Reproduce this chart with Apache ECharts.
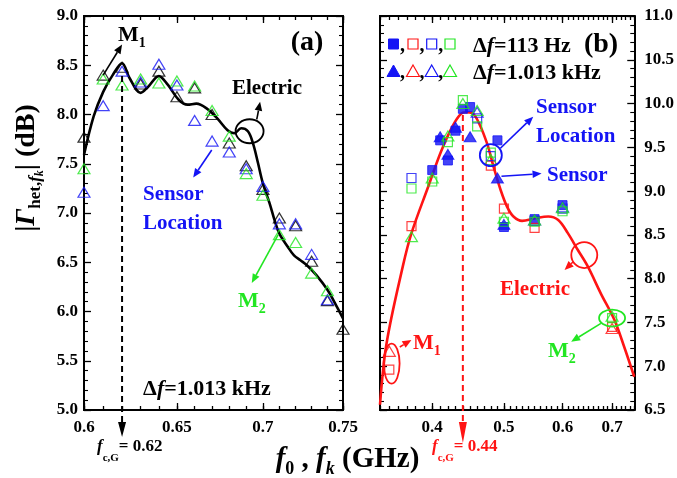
<!DOCTYPE html>
<html>
<head>
<meta charset="utf-8">
<script src="https://cdn.jsdelivr.net/npm/echarts@6/dist/echarts.min.js"></script>
<style>
  html, body { margin: 0; padding: 0; background: #ffffff; }
  #chart { width: 677px; height: 478px; }
</style>
</head>
<body>
<div id="chart"></div>
<script>
// ---------- panel (a): Δf = 1.013 kHz, f0 scan ----------
const freqA      = [0.60, 0.61, 0.62, 0.63, 0.64, 0.65, 0.66, 0.67, 0.68, 0.69, 0.70, 0.71, 0.72, 0.73, 0.74, 0.75];
const electricTriA = [7.77, 8.40, 8.48, 8.31, 8.44, 8.18, 8.27, 8.00, 7.71, 7.48, 7.24, 6.95, 6.87, 6.51, 6.11, 5.82];
const locationTriA = [7.21, 8.09, 8.44, 8.33, 8.51, 8.30, 7.94, 7.73, 7.62, 7.45, 7.27, 6.89, 6.89, 6.58, 6.12];
const m2TriA       = [7.45, 8.36, 8.30, 8.36, 8.32, 8.34, 8.29, 8.04, 7.78, 7.40, 7.18, 6.78, 6.70, 6.39, 6.21];
const curveFreqA = [0.600, 0.605, 0.610, 0.615, 0.620, 0.624, 0.630, 0.634, 0.640, 0.645, 0.651, 0.656, 0.661, 0.667,
                    0.673, 0.679, 0.683, 0.687, 0.691, 0.694, 0.697, 0.700, 0.704, 0.707, 0.710, 0.715, 0.719, 0.723,
                    0.727, 0.733, 0.740, 0.746, 0.750];
const curveValA  = [7.59, 7.98, 8.23, 8.40, 8.52, 8.37, 8.22, 8.28, 8.39, 8.30, 8.15, 8.10, 8.11, 8.06,
                    7.96, 7.84, 7.81, 7.86, 7.83, 7.71, 7.51, 7.30, 7.10, 6.93, 6.79, 6.66, 6.57, 6.52,
                    6.47, 6.37, 6.22, 6.05, 5.93];
const fcA = 0.62;

// ---------- panel (b): Δf = 113 Hz (squares) and Δf = 1.013 kHz (triangles) ----------
const sqSensorB   = [[0.40, 9.24], [0.41, 9.58], [0.42, 9.35], [0.43, 9.69], [0.44, 9.94], [0.45, 9.96], [0.49, 9.58], [0.50, 8.59], [0.55, 8.68], [0.60, 8.84]];
const sqElectricB = [[0.35, 6.96], [0.375, 8.60], [0.48, 9.29], [0.50, 8.80], [0.55, 8.58], [0.70, 7.45]];
const sqLocationB = [[0.375, 9.15], [0.46, 9.83], [0.48, 9.40], [0.55, 8.66], [0.60, 8.80]];
const sqM2B       = [[0.375, 9.03], [0.40, 9.11], [0.42, 9.56], [0.44, 10.04], [0.46, 9.74], [0.48, 9.44], [0.50, 8.65], [0.55, 8.65], [0.60, 8.77], [0.70, 7.55]];
const triSensorB   = [[0.41, 9.62], [0.42, 9.42], [0.43, 9.73], [0.45, 9.62], [0.49, 9.15], [0.50, 8.62]];
const triElectricB = [[0.35, 7.17], [0.70, 7.43]];
const triLocationB = [[0.46, 9.90], [0.55, 8.67], [0.60, 8.82]];
const triM2B       = [[0.375, 8.48], [0.40, 9.15], [0.42, 9.63], [0.44, 10.00], [0.46, 9.92], [0.48, 9.36], [0.50, 8.69], [0.55, 8.67], [0.60, 8.81], [0.70, 7.57]];
const curveFreqB = [0.340, 0.347, 0.365, 0.375, 0.395, 0.411, 0.426, 0.437, 0.444, 0.453, 0.463, 0.475, 0.484,
                    0.495, 0.505, 0.515, 0.529, 0.551, 0.574, 0.592, 0.610, 0.629, 0.649, 0.676, 0.705, 0.727, 0.750];
const curveValB  = [6.56, 7.26, 8.14, 8.52, 9.05, 9.45, 9.74, 9.88, 9.90, 9.89, 9.77, 9.53, 9.28,
                    9.01, 8.82, 8.71, 8.66, 8.69, 8.71, 8.67, 8.52, 8.33, 8.14, 7.83, 7.53, 7.22, 6.88];
const fcB = 0.44;

// ---------- axis ticks ----------
const xMajorA = [0.6, 0.65, 0.7, 0.75];
const xMinorA = [0.60, 0.61, 0.62, 0.63, 0.64, 0.65, 0.66, 0.67, 0.68, 0.69, 0.70, 0.71, 0.72, 0.73, 0.74, 0.75];
const xMajorB = [0.4, 0.5, 0.6, 0.7];
const xMinorB = [0.34, 0.35, 0.36, 0.37, 0.38, 0.39, 0.40, 0.41, 0.42, 0.43, 0.44, 0.45, 0.46, 0.47, 0.48, 0.49,
                 0.50, 0.51, 0.52, 0.53, 0.54, 0.55, 0.56, 0.57, 0.58, 0.59, 0.60, 0.61, 0.62, 0.63, 0.64, 0.65,
                 0.66, 0.67, 0.68, 0.69, 0.70, 0.71, 0.72, 0.73, 0.74, 0.75];
const yRangeA = [5.0, 9.0];
const yRangeB = [6.5, 11.0];

// ---------- styling ----------
const SERIF = '"Liberation Serif", "Times New Roman", serif';
const BLACK = '#000000', BLUE = '#1414f5', GREEN = '#22e622', RED = '#ff1414';

const chart = echarts.init(document.getElementById('chart'), null, { renderer: 'canvas' });

const GRID_A = { left: 84, top: 16, width: 259, height: 394 };
const GRID_B = { left: 380, top: 16, width: 257, height: 394 };

const tickLabel = { show: true, color: BLACK, fontFamily: SERIF, fontWeight: 'bold', fontSize: 17 };

function logAxis(grid, position, range, ticks, len, labels) {
  return {
    type: 'log', logBase: 10, gridIndex: grid, position: position,
    min: range[0], max: range[1],
    axisLine: { show: true, onZero: false, lineStyle: { color: BLACK, width: 2 } },
    axisTick: { show: true, inside: true, length: len, customValues: ticks, lineStyle: { color: BLACK, width: 1.3 } },
    axisLabel: labels ? Object.assign({}, tickLabel, {
      customValues: labels, margin: 9,
      formatter: v => String(+Number(v).toFixed(2))
    }) : { show: false },
    splitLine: { show: false }, minorTick: { show: false }, minorSplitLine: { show: false }
  };
}

function valAxis(grid, position, range, labels) {
  return {
    type: 'value', gridIndex: grid, position: position,
    min: range[0], max: range[1], interval: 0.5,
    axisLine: { show: true, onZero: false, lineStyle: { color: BLACK, width: 2 } },
    axisTick: { show: true, inside: true, length: 7, lineStyle: { color: BLACK, width: 1.3 } },
    minorTick: { show: true, splitNumber: 5, length: 4, lineStyle: { color: BLACK, width: 1.1 } },
    axisLabel: labels ? Object.assign({}, tickLabel, {
      margin: position === 'left' ? 6 : 10,
      formatter: v => Number(v).toFixed(1)
    }) : { show: false },
    splitLine: { show: false }, minorSplitLine: { show: false }
  };
}

const zip = (xs, ys) => ys.map((y, i) => [xs[i], y]);

function marks(name, data, x, y, symbol, size, color, filled, z) {
  return {
    name: name, type: 'scatter', xAxisIndex: x, yAxisIndex: y, data: data,
    symbol: symbol, symbolSize: size, z: z || 3, silent: true,
    itemStyle: filled ? { color: color, borderColor: color, borderWidth: 1 }
                      : { color: 'rgba(255,255,255,0)', borderColor: color, borderWidth: 1.2 },
    emphasis: { disabled: true }
  };
}

const TRI = [12, 10], SQ = 9;

chart.setOption({
  animation: false,
  backgroundColor: '#ffffff',
  grid: [GRID_A, GRID_B],
  xAxis: [
    logAxis(0, 'bottom', [0.6, 0.75], xMajorA, 7, xMajorA),
    logAxis(0, 'bottom', [0.6, 0.75], xMinorA, 4, null),
    logAxis(0, 'top', [0.6, 0.75], xMajorA, 7, null),
    logAxis(0, 'top', [0.6, 0.75], xMinorA, 4, null),
    logAxis(1, 'bottom', [0.34, 0.75], xMajorB, 7, xMajorB),
    logAxis(1, 'bottom', [0.34, 0.75], xMinorB, 4, null),
    logAxis(1, 'top', [0.34, 0.75], xMajorB, 7, null),
    logAxis(1, 'top', [0.34, 0.75], xMinorB, 4, null)
  ],
  yAxis: [
    valAxis(0, 'left', yRangeA, true),
    valAxis(0, 'right', yRangeA, false),
    valAxis(1, 'left', yRangeB, false),
    valAxis(1, 'right', yRangeB, true)
  ],
  series: [
    { name: 'Electric (a)', type: 'line', xAxisIndex: 0, yAxisIndex: 0, data: zip(curveFreqA, curveValA),
      smooth: 0.35, showSymbol: false, silent: true, z: 2, lineStyle: { color: BLACK, width: 2.6 } },
    marks('Electric', zip(freqA, electricTriA), 0, 0, 'triangle', TRI, BLACK, false, 3),
    marks('Sensor Location', zip(freqA, locationTriA), 0, 0, 'triangle', TRI, BLUE, false, 4),
    marks('M2', zip(freqA, m2TriA), 0, 0, 'triangle', TRI, GREEN, false, 5),

    { name: 'Electric (b)', type: 'line', xAxisIndex: 4, yAxisIndex: 3, data: zip(curveFreqB, curveValB),
      smooth: 0.35, showSymbol: false, silent: true, z: 2, lineStyle: { color: RED, width: 2.6 } },
    marks('Sensor 113 Hz', sqSensorB, 4, 3, 'rect', SQ, BLUE, true, 3),
    marks('Sensor 1.013 kHz', triSensorB, 4, 3, 'triangle', TRI, BLUE, true, 3),
    marks('Electric 113 Hz', sqElectricB, 4, 3, 'rect', SQ, RED, false, 4),
    marks('Electric 1.013 kHz', triElectricB, 4, 3, 'triangle', TRI, RED, false, 4),
    marks('Location 113 Hz', sqLocationB, 4, 3, 'rect', SQ, BLUE, false, 5),
    marks('Location 1.013 kHz', triLocationB, 4, 3, 'triangle', TRI, BLUE, false, 5),
    marks('M2 113 Hz', sqM2B, 4, 3, 'rect', SQ, GREEN, false, 6),
    marks('M2 1.013 kHz', triM2B, 4, 3, 'triangle', TRI, GREEN, false, 6)
  ]
});

// ---------- annotations (anchored to data coordinates) ----------
const PA = (f, v) => chart.convertToPixel({ seriesIndex: 0 }, [f, v]);
const PB = (f, v) => chart.convertToPixel({ seriesIndex: 4 }, [f, v]);

const measure = document.createElement('canvas').getContext('2d');
function fontOf(p) { return (p.i ? 'italic ' : '') + 'bold ' + p.s + 'px ' + SERIF; }
// a run of text pieces (for sub/superscripts); align: 'left' | 'center'
function run(parts, x, y, color, align, rot) {
  let w = 0;
  const items = parts.map(p => {
    const font = fontOf(p);
    measure.font = font;
    const it = { t: p.t, font: font, x: w, dy: p.dy || 0 };
    w += measure.measureText(p.t).width;
    return it;
  });
  const x0 = align === 'center' ? -w / 2 : 0;
  return {
    type: 'group', x: x, y: y, rotation: rot || 0, silent: true, z: 50,
    children: items.map(it => ({
      type: 'text', x: x0 + it.x, y: it.dy, silent: true,
      style: { text: it.t, font: it.font, fill: color, textAlign: 'left', textVerticalAlign: 'middle' }
    }))
  };
}
function arrow(p0, p1, color, lw, head, hw) {
  lw = lw || 1.6; head = head || 9; hw = hw || 3.8;
  const dx = p1[0] - p0[0], dy = p1[1] - p0[1], L = Math.hypot(dx, dy), ux = dx / L, uy = dy / L;
  const bx = p1[0] - ux * head, by = p1[1] - uy * head;
  return [
    { type: 'line', silent: true, z: 40, shape: { x1: p0[0], y1: p0[1], x2: bx, y2: by }, style: { stroke: color, lineWidth: lw } },
    { type: 'polygon', silent: true, z: 40, shape: { points: [[p1[0], p1[1]], [bx - uy * hw, by + ux * hw], [bx + uy * hw, by - ux * hw]] }, style: { fill: color } }
  ];
}
function ellipse(c, rx, ry, color) {
  return { type: 'ellipse', silent: true, z: 40, shape: { cx: c[0], cy: c[1], rx: rx, ry: ry }, style: { fill: 'none', stroke: color, lineWidth: 1.8 } };
}
function fcMarker(P, fc, vTop, yAxisBottom, tip, color) {
  const top = P(fc, vTop);
  const x = top[0];
  return [
    { type: 'line', silent: true, z: 30, shape: { x1: x, y1: top[1], x2: x, y2: yAxisBottom + 12 },
      style: { stroke: color, lineWidth: 2, lineDash: [6, 4] } },
    { type: 'polygon', silent: true, z: 30, shape: { points: [[x - 4, yAxisBottom + 12], [x + 4, yAxisBottom + 12], [x, tip]] }, style: { fill: color } }
  ];
}

const bottom = GRID_A.top + GRID_A.height;
const g = [];

// panel (a)
g.push(...arrow(PA(0.610, 8.40), PA(0.620, 8.71), BLACK));
g.push(run([{ t: 'M', s: 22 }, { t: '1', s: 14, dy: 8 }], 118, 35, BLACK, 'left'));
g.push(run([{ t: '(a)', s: 28 }], 307, 43, BLACK, 'center'));
g.push(ellipse(PA(0.692, 7.83), 14, 12, BLACK));
g.push(...arrow(PA(0.6963, 7.95), PA(0.6983, 8.13), BLACK));
g.push(run([{ t: 'Electric', s: 21 }], 267, 89, BLACK, 'center'));
g.push(...arrow(PA(0.6698, 7.64), PA(0.6592, 7.36), BLUE));
g.push(run([{ t: 'Sensor', s: 21 }], 143, 194.5, BLUE, 'left'));
g.push(run([{ t: 'Location', s: 21 }], 143, 223.5, BLUE, 'left'));
g.push(...arrow(PA(0.7093, 6.78), PA(0.6933, 6.29), GREEN));
g.push(run([{ t: 'M', s: 22 }, { t: '2', s: 14, dy: 8 }], 238, 301, GREEN, 'left'));
g.push(run([{ t: 'Δ', s: 22 }, { t: 'f', s: 22, i: true }, { t: '=1.013 kHz', s: 22 }], 207, 389, BLACK, 'center'));
g.push(...fcMarker(PA, fcA, 8.39, bottom, bottom + 27, BLACK));
g.push(run([{ t: 'f', s: 17, i: true }, { t: 'c,G', s: 11, dy: 11 }, { t: '= 0.62', s: 17 }], 97, 447, BLACK, 'left'));

// panel (b): legend
function legendRow(y, shape) {
  const xs = [393.5, 413, 431.7, 450];
  const cols = [BLUE, RED, BLUE, GREEN];
  const out = [];
  xs.forEach((x, i) => {
    const filled = i === 0;
    const st = filled ? { fill: cols[i], stroke: cols[i], lineWidth: 1 } : { fill: 'none', stroke: cols[i], lineWidth: 1.2 };
    if (shape === 'sq') {
      out.push({ type: 'rect', silent: true, z: 45, shape: { x: x - 5, y: y - 5, width: 10, height: 10 }, style: st });
    } else {
      out.push({ type: 'polygon', silent: true, z: 45, shape: { points: [[x, y - 6], [x + 6.5, y + 5.5], [x - 6.5, y + 5.5]] }, style: st });
    }
    if (i < 3) out.push(run([{ t: ',', s: 20 }], x + 6.5, y + 2, BLACK, 'left'));
  });
  return out;
}
g.push(...legendRow(44, 'sq'));
g.push(...legendRow(71, 'tri'));
g.push(run([{ t: 'Δ', s: 22 }, { t: 'f', s: 22, i: true }, { t: '=113 Hz', s: 22 }], 473, 46, BLACK, 'left'));
g.push(run([{ t: 'Δ', s: 22 }, { t: 'f', s: 22, i: true }, { t: '=1.013 kHz', s: 22 }], 473, 73, BLACK, 'left'));
g.push(run([{ t: '(b)', s: 28 }], 601, 45, BLACK, 'center'));

// panel (b): annotations
g.push(ellipse(PB(0.48, 9.41), 11, 11, BLUE));
g.push(...arrow(PB(0.4945, 9.49), PB(0.5477, 9.85), BLUE));
g.push(run([{ t: 'Sensor', s: 21 }], 536, 108, BLUE, 'left'));
g.push(run([{ t: 'Location', s: 21 }], 536, 136.5, BLUE, 'left'));
g.push(...arrow(PB(0.4962, 9.17), PB(0.5621, 9.20), BLUE));
g.push(run([{ t: 'Sensor', s: 21 }], 547, 175.5, BLUE, 'left'));
g.push(ellipse(PB(0.642, 8.27), 13, 13, RED));
g.push(...arrow(PB(0.6197, 8.19), PB(0.6038, 8.10), RED));
g.push(run([{ t: 'Electric', s: 21 }], 500, 290, RED, 'left'));
g.push(ellipse(PB(0.70, 7.55), 13, 8.5, GREEN));
g.push(...arrow(PB(0.6762, 7.49), PB(0.6163, 7.28), GREEN));
g.push(run([{ t: 'M', s: 22 }, { t: '2', s: 14, dy: 8 }], 548, 351, GREEN, 'left'));
g.push(ellipse(PB(0.3525, 7.03), 8, 20, RED));
g.push(...arrow(PB(0.3616, 7.22), PB(0.3749, 7.30), RED));
g.push(run([{ t: 'M', s: 22 }, { t: '1', s: 14, dy: 8 }], 413, 343, RED, 'left'));
g.push(...fcMarker(PB, fcB, 9.87, bottom, bottom + 33, RED));
g.push(run([{ t: 'f', s: 17, i: true }, { t: 'c,G', s: 11, dy: 11 }, { t: '= 0.44', s: 17 }], 432, 447, RED, 'left'));

// axis titles
g.push(run([{ t: 'f', s: 29, i: true }, { t: '0', s: 18, dy: 9 }, { t: ' , ', s: 29 }, { t: 'f', s: 29, i: true },
            { t: 'k', s: 18, i: true, dy: 9 }, { t: ' (GHz)', s: 29 }], 347.5, 460, BLACK, 'center'));
g.push(run([{ t: '|', s: 28 }, { t: 'Γ', s: 28, i: true }, { t: 'het,', s: 17, dy: 9 }, { t: 'f', s: 17, i: true, dy: 9 },
            { t: 'k', s: 12, i: true, dy: 13 }, { t: '|', s: 28 }, { t: ' (dB)', s: 28 }], 27, 168, BLACK, 'center', Math.PI / 2));

chart.setOption({ graphic: g });
</script>
</body>
</html>
